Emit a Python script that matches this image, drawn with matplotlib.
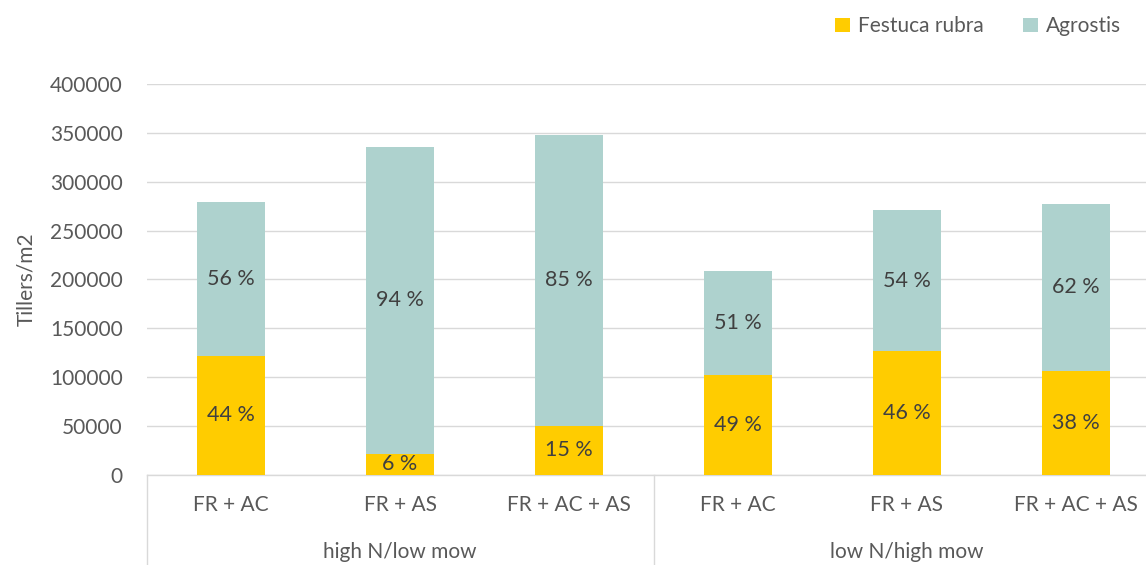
import matplotlib.pyplot as plt
import matplotlib.transforms as mtransforms

# DATA
treatments = ["FR + AC", "FR + AS", "FR + AC + AS", "FR + AC", "FR + AS", "FR + AC + AS"]
groups = ["high N/low mow", "low N/high mow"]
festuca = [122000, 21500, 50500, 102500, 126500, 106500]
agrostis = [157000, 314500, 297500, 106000, 144500, 171000]
festuca_pct = [44, 6, 15, 49, 46, 38]
agrostis_pct = [56, 94, 85, 51, 54, 62]

yellow = "#FFCC00"
teal = "#AED2CE"
grey_txt = "#595959"
grid_col = "#D9D9D9"
fs = 15

plt.rcParams['font.family'] = ['Lato', 'DejaVu Sans']

fig = plt.figure(figsize=(11.46, 5.65), dpi=100)
ax = fig.add_axes([146.5 / 1146, 90 / 565, 1014 / 1146, 391 / 565])

x = list(range(len(treatments)))
ax.bar(x, festuca, width=0.40, color=yellow, zorder=3, label="Festuca rubra")
ax.bar(x, agrostis, width=0.40, bottom=festuca, color=teal, zorder=3, label="Agrostis")

# percentage labels in the middle of each segment
for i in x:
    ax.text(i, festuca[i] / 2, f"{festuca_pct[i]} %", ha="center", va="center",
            fontsize=fs + 0.5, color="#404040", zorder=4)
    ax.text(i, festuca[i] + agrostis[i] / 2, f"{agrostis_pct[i]} %", ha="center",
            va="center", fontsize=fs + 0.5, color="#404040", zorder=4)

ax.set_xlim(-0.5, 5.5)
ax.set_ylim(0, 400000)
ax.set_yticks(range(0, 400001, 50000))
ax.tick_params(axis="y", length=0, labelsize=fs, labelcolor=grey_txt, pad=17)
ax.grid(axis="y", color=grid_col, linewidth=1, zorder=0)
for s in ["top", "right", "left"]:
    ax.spines[s].set_visible(False)
ax.spines["bottom"].set_color(grid_col)
ax.spines["bottom"].set_linewidth(1)
ax.set_xticks([])
ax.set_ylabel("Tillers/m2", fontsize=fs, color=grey_txt, labelpad=10)

# MULTI-LEVEL CATEGORY AXIS
trans = mtransforms.blended_transform_factory(ax.transData, ax.transAxes)
for i, t in enumerate(treatments):
    ax.text(i, -30 / 391, t, transform=trans, ha="center", va="center",
            fontsize=fs, color=grey_txt)
for g, name in enumerate(groups):
    ax.text(g * 3 + 1, -77 / 391, name, transform=trans, ha="center", va="center",
            fontsize=fs, color=grey_txt)
for xs in [-0.5, 2.5, 5.5]:
    ax.plot([xs, xs], [0, -90 / 391], transform=trans, color=grid_col,
            linewidth=1, clip_on=False)

# LEGEND
fig.legend(loc="upper right", bbox_to_anchor=(1140 / 1146, 1.004), ncol=2, frameon=False,
           fontsize=fs, labelcolor=grey_txt, handlelength=0.7, handleheight=0.7,
           handletextpad=0.4, columnspacing=1.9)

plt.savefig("out.png")
